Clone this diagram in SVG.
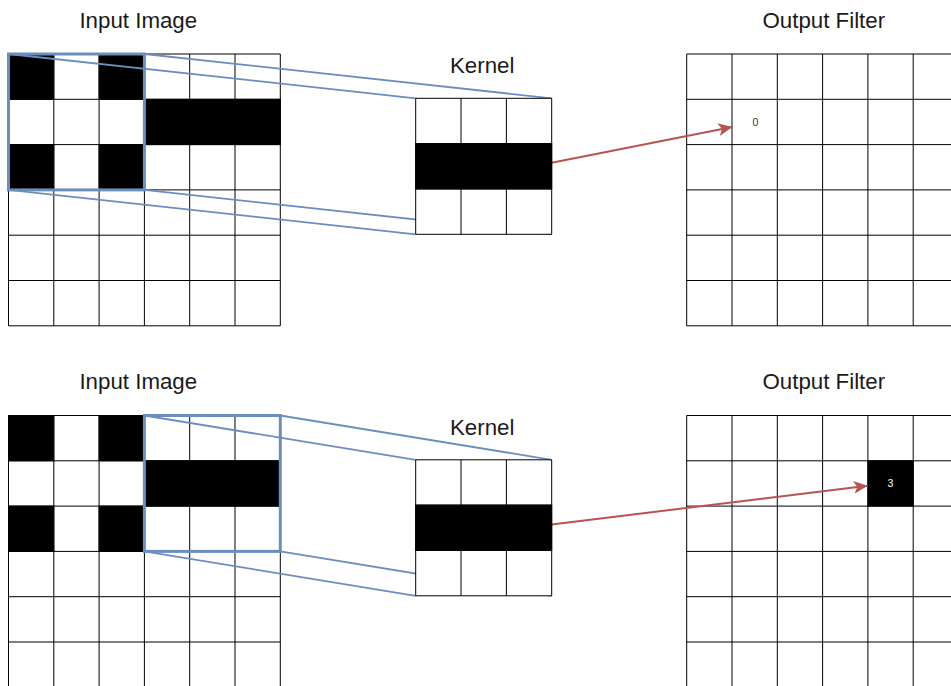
<svg xmlns="http://www.w3.org/2000/svg" xmlns:xlink="http://www.w3.org/1999/xlink" width="951" height="686" viewBox="0 0 951 686">
  <style>
    .title { font-family: "Liberation Sans", Arial, Helvetica, sans-serif; font-size: 22.3px; fill: #1a1a1a; text-anchor: middle; }
    .val { font-family: "Liberation Sans", Arial, Helvetica, sans-serif; font-size: 10.5px; text-anchor: middle; }
    .gridbg { fill: #ffffff; stroke: none; }
    .gridln { fill: none; stroke: #000000; stroke-width: 1; }
    .on { fill: #000000; stroke: #000000; stroke-width: 1; }
    .win { fill: none; stroke: #6c8ebf; stroke-width: 3; }
    .proj { fill: none; stroke: #6c8ebf; stroke-width: 1.8; }
    .flow { fill: none; stroke: #b85450; stroke-width: 2; marker-end: url(#head); }
  </style>
  <defs>
    <!-- 6x6 grid, cell 45.3 -->
    <g id="grid6">
      <rect class="gridbg" x="0" y="0" width="271.8" height="271.8"/>
      <path class="gridln" d="M0,0V271.8M45.3,0V271.8M90.6,0V271.8M135.9,0V271.8M181.2,0V271.8M226.5,0V271.8M271.8,0V271.8M0,0H271.8M0,45.3H271.8M0,90.6H271.8M0,135.9H271.8M0,181.2H271.8M0,226.5H271.8M0,271.8H271.8"/>
    </g>
    <!-- 3x3 grid -->
    <g id="grid3">
      <rect class="gridbg" x="0" y="0" width="136" height="136"/>
      <path class="gridln" d="M0,0V136M45.33,0V136M90.67,0V136M136,0V136M0,0H136M0,45.33H136M0,90.67H136M0,136H136"/>
    </g>
    <marker id="head" markerUnits="userSpaceOnUse" markerWidth="16" markerHeight="14" refX="14" refY="6.5" orient="auto">
      <path d="M0,0 L14,6.5 L0,13 L3.5,6.5 Z" fill="#b85450"/>
    </marker>
  </defs>

  <!-- upper row -->
  <g id="input-top">
    <text class="title" x="138.3" y="27.7">Input Image</text>
    <use xlink:href="#grid6" x="8.5" y="54"/>
    <rect class="on" x="8.5" y="54" width="45.3" height="45.3"/>
    <rect class="on" x="99.1" y="54" width="45.3" height="45.3"/>
    <rect class="on" x="144.4" y="99.3" width="135.9" height="45.3"/>
    <rect class="on" x="8.5" y="144.6" width="45.3" height="45.3"/>
    <rect class="on" x="99.1" y="144.6" width="45.3" height="45.3"/>
    <rect class="win" x="8.5" y="54" width="135.9" height="135.9"/>
  </g>

  <g id="output-top">
    <text class="title" x="823.8" y="27.7">Output Filter</text>
    <use xlink:href="#grid6" x="686.7" y="54"/>
    <text class="val" x="755.3" y="125.8" fill="#333333">0</text>
  </g>

  <!-- lower row -->
  <g id="input-bottom">
    <text class="title" x="138.3" y="389.2">Input Image</text>
    <use xlink:href="#grid6" x="8.5" y="415.5"/>
    <rect class="on" x="8.5" y="415.5" width="45.3" height="45.3"/>
    <rect class="on" x="99.1" y="415.5" width="45.3" height="45.3"/>
    <rect class="on" x="144.4" y="460.8" width="135.9" height="45.3"/>
    <rect class="on" x="8.5" y="506.1" width="45.3" height="45.3"/>
    <rect class="on" x="99.1" y="506.1" width="45.3" height="45.3"/>
    <rect class="win" x="144.4" y="415.5" width="135.9" height="135.9"/>
  </g>

  <g id="output-bottom">
    <text class="title" x="823.8" y="389.2">Output Filter</text>
    <use xlink:href="#grid6" x="686.7" y="415.5"/>
    <rect class="on" x="867.9" y="460.8" width="45.3" height="45.3"/>
    <text class="val" x="890.5" y="487.3" fill="#ffffff">3</text>
  </g>

  <!-- connectors: window projections and result arrows -->
  <g id="connectors">
    <line class="proj" x1="8.5" y1="54" x2="415.7" y2="98.3"/>
    <line class="proj" x1="144.4" y1="54" x2="551.7" y2="98.3"/>
    <line class="proj" x1="8.5" y1="189.9" x2="415.7" y2="234.3"/>
    <line class="proj" x1="144.4" y1="189.9" x2="551.7" y2="234.3"/>
    <line class="proj" x1="144.4" y1="415.5" x2="415.7" y2="459.8"/>
    <line class="proj" x1="280.3" y1="415.5" x2="551.7" y2="459.8"/>
    <line class="proj" x1="144.4" y1="551.4" x2="415.7" y2="595.8"/>
    <line class="proj" x1="280.3" y1="551.4" x2="551.7" y2="595.8"/>
    <path class="flow" d="M551.7,162.7 L732.3,127"/>
    <path class="flow" d="M551.7,524.5 L867.7,485.7"/>
  </g>

  <g id="kernel-top">
    <text class="title" x="482.2" y="73.3">Kernel</text>
    <use xlink:href="#grid3" x="415.7" y="98.3"/>
    <rect class="on" x="415.7" y="143.6" width="136" height="45.3"/>
  </g>

  <g id="kernel-bottom">
    <text class="title" x="482.2" y="434.8">Kernel</text>
    <use xlink:href="#grid3" x="415.7" y="459.8"/>
    <rect class="on" x="415.7" y="505.1" width="136" height="45.3"/>
  </g>
</svg>
